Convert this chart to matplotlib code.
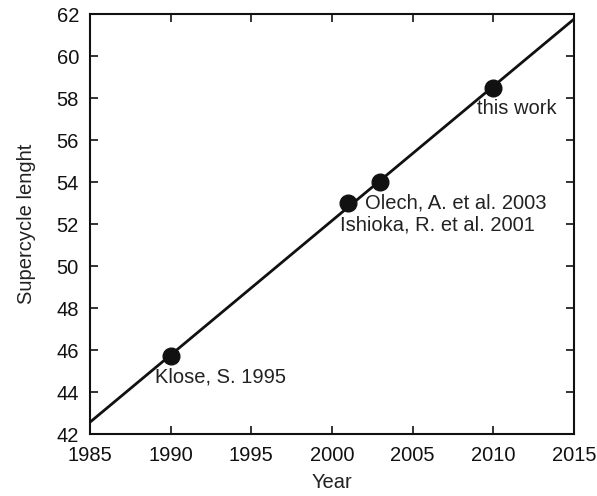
import numpy as np
import matplotlib.pyplot as plt

plt.rcParams['font.family'] = ['Liberation Sans', 'DejaVu Sans']

years = [1990, 2001, 2003, 2010]
lengths = [45.7, 53.0, 54.0, 58.5]
labels = ['Klose, S. 1995', 'Ishioka, R. et al. 2001', 'Olech, A. et al. 2003', 'this work']
# label offsets in pixels (dx, dy) from the point
offsets = [(-16, -21), (-8, -22), (-15, -21), (-16, -21)]

fs = 14.5

fig = plt.figure(figsize=(5.97, 4.96), dpi=100)
ax = fig.add_axes([90 / 597, 1 - 434 / 496, 484 / 597, 420 / 496])

# linear fit across the whole range
slope, icpt = np.polyfit(years, lengths, 1)
xx = np.array([1985, 2015])
ax.plot(xx, slope * xx + icpt, color='#111111', lw=2, zorder=2)
ax.plot(years, lengths, 'o', color='#111111', ms=12, zorder=3)

for x, y, lab, (dx, dy) in zip(years, lengths, labels, offsets):
    ax.annotate(lab, (x, y), xytext=(dx, dy), textcoords='offset pixels',
                ha='left', va='center', fontsize=fs, color='#222222')

ax.set_xlim(1985, 2015)
ax.set_ylim(42, 62)
ax.set_xticks(np.arange(1985, 2016, 5))
ax.set_yticks(np.arange(42, 63, 2))
ax.tick_params(direction='in', top=True, right=True, length=6, width=1.2,
               labelsize=fs, colors='#111111')
ax.tick_params(axis='x', pad=8.5)
ax.tick_params(axis='y', pad=8)
for sp in ax.spines.values():
    sp.set_linewidth(1.5)
    sp.set_color('#111111')

ax.set_xlabel('Year', fontsize=fs, color='#222222', labelpad=6)
ax.set_ylabel('Supercycle lenght', fontsize=fs, color='#222222', labelpad=15)

fig.savefig('out.png', dpi=100)
